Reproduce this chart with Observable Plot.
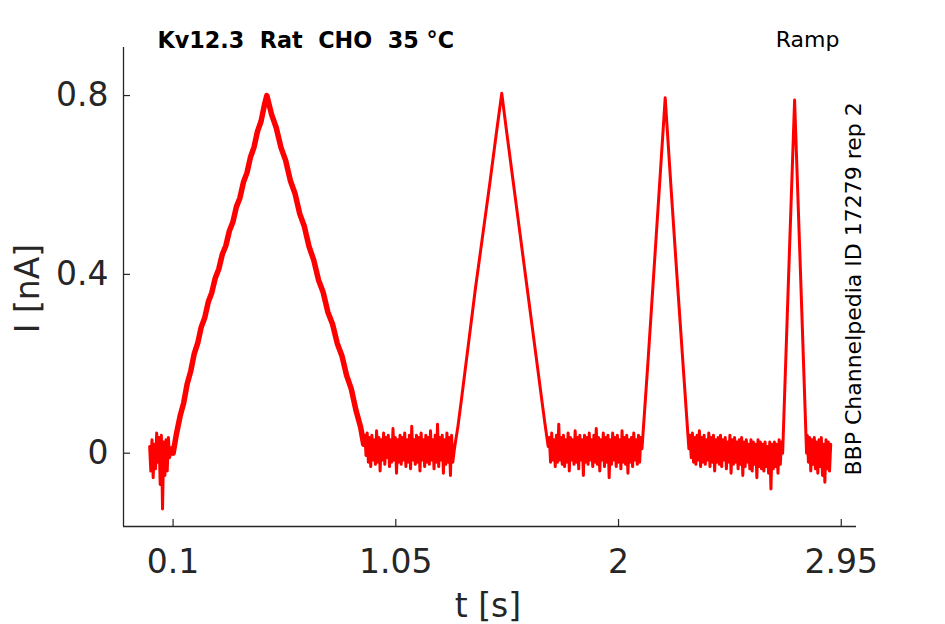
<!DOCTYPE html>
<html>
<head>
<meta charset="utf-8">
<script src="https://cdn.jsdelivr.net/npm/d3@7"></script>
<script src="https://cdn.jsdelivr.net/npm/@observablehq/plot@0.6"></script>
<style>
  body { margin: 0; background: #fff; }
  svg { display: block; }
</style>
</head>
<body>
<div id="chart"></div>
<script>
// ---------- data ----------
const titleText = "Kv12.3\u00a0 Rat\u00a0 CHO\u00a0 35 \u00b0C";
const protocolText = "Ramp";
const sourceText = "BBP Channelpedia ID 17279 rep 2";
const xLabel = "t [s]";
const yLabel = "I [nA]";

const xTicks = [0.1, 1.05, 2, 2.95];
const yTicks = [0, 0.4, 0.8];
const xDomain = [-0.1115, 3.015];
const yDomain = [-0.164, 0.9075];

// sample interval of the noisy baseline stretches (s)
const dt = 0.005;

// baseline stretches: start time (s) and current values (nA)
const base0Start = 0.000;
const base0 = [0.015, -0.04, 0.03, -0.055, 0.02, -0.035, 0.045, -0.02, 0.035, -0.07, 0.04, -0.125,
               0.025, -0.05, 0.03, -0.04, 0.035, -0.01];

const base1Start = 0.918;
const base1 = [0.04, -0.005, 0.045, -0.02, 0.035, -0.03, 0.04, -0.015, 0.03, -0.025, 0.05, -0.02,
               0.035, -0.04, 0.03, -0.015, 0.045, -0.025, 0.035, -0.01, 0.04, -0.03, 0.03, -0.02,
               0.055, -0.015, 0.035, -0.045, 0.03, -0.02, 0.04, -0.025, 0.035, -0.015, 0.045, -0.03,
               0.03, -0.02, 0.04, -0.035, 0.06, -0.015, 0.03, -0.025, 0.04, -0.02, 0.035, -0.04,
               0.045, -0.015, 0.03, -0.03, 0.04, -0.02, 0.035, -0.025, 0.05, -0.015, 0.03, -0.035,
               0.04, -0.02, 0.065, -0.03, 0.035, -0.015, 0.04, -0.045, 0.03, -0.025, 0.045, -0.02,
               0.035, -0.05, 0.04, -0.02];

const base2Start = 1.705;
const base2 = [0.035, -0.02, 0.045, -0.015, 0.03, -0.03, 0.04, -0.02, 0.065, -0.015, 0.035, -0.025,
               0.04, -0.03, 0.03, -0.02, 0.045, -0.04, 0.035, -0.015, 0.03, -0.025, 0.05, -0.02,
               0.035, -0.035, 0.04, -0.015, 0.03, -0.05, 0.04, -0.02, 0.035, -0.025, 0.045, -0.015,
               0.03, -0.03, 0.04, -0.02, 0.055, -0.025, 0.035, -0.04, 0.03, -0.015, 0.045, -0.03,
               0.035, -0.02, 0.04, -0.055, 0.03, -0.025, 0.045, -0.015, 0.035, -0.03, 0.04, -0.02,
               0.03, -0.035, 0.05, -0.02, 0.035, -0.025, 0.04, -0.045, 0.03, -0.02, 0.035, -0.03,
               0.045, -0.015, 0.03, -0.025, 0.04, -0.02, 0.035];

const base3Start = 2.305;
const base3 = [0.04, -0.01, 0.045, -0.02, 0.035, -0.025, 0.04, -0.015, 0.05, -0.03, 0.035, -0.02,
               0.04, -0.025, 0.03, -0.015, 0.045, -0.03, 0.035, -0.02, 0.04, -0.04, 0.03, -0.02,
               0.035, -0.025, 0.04, -0.03, 0.03, -0.015, 0.035, -0.035, 0.025, -0.02, 0.04, -0.045,
               0.03, -0.025, 0.035, -0.02, 0.025, -0.035, 0.03, -0.025, 0.035, -0.05, 0.025, -0.03,
               0.03, -0.02, 0.02, -0.035, 0.03, -0.04, 0.025, -0.025, 0.02, -0.055, 0.03, -0.03,
               0.025, -0.035, 0.02, -0.04, 0.025, -0.03, 0.015, -0.045, 0.025, -0.08, 0.02, -0.035,
               0.025, -0.03, 0.02, -0.045, 0.03, -0.025, 0.025];

const base4Start = 2.805;
const base4 = [0.04, -0.02, 0.035, -0.04, 0.03, -0.025, 0.035, -0.035, 0.025, -0.045, 0.03, -0.03,
               0.035, -0.05, 0.02, -0.065, 0.03, -0.035, 0.025, -0.04, 0.02];

// ramp responses: time (s) and current (nA)
const ramp1T = [0.095, 0.100, 0.115, 0.130, 0.145, 0.160, 0.175, 0.190, 0.205, 0.220, 0.235, 0.250,
                0.265, 0.280, 0.295, 0.310, 0.325, 0.340, 0.355, 0.370, 0.385, 0.400, 0.415, 0.430,
                0.445, 0.460, 0.475, 0.490, 0.500, 0.520, 0.540, 0.560, 0.580, 0.600, 0.620, 0.640,
                0.660, 0.680, 0.700, 0.720, 0.740, 0.760, 0.780, 0.800, 0.820, 0.840, 0.860, 0.880,
                0.900, 0.913];
const ramp1I = [0.01, 0.00, 0.045, 0.083, 0.112, 0.155, 0.183, 0.222, 0.246, 0.282, 0.303, 0.338,
                0.359, 0.392, 0.412, 0.445, 0.464, 0.497, 0.517, 0.551, 0.571, 0.606, 0.627, 0.662,
                0.684, 0.72, 0.742, 0.78, 0.800, 0.758, 0.728, 0.684, 0.655, 0.61, 0.581, 0.536,
                0.507, 0.462, 0.432, 0.388, 0.36, 0.316, 0.289, 0.246, 0.218, 0.174, 0.144, 0.096,
                0.058, 0.02];

const ramp2T = [1.300, 1.315, 1.330, 1.360, 1.390, 1.420, 1.450, 1.480, 1.502, 1.520, 1.550, 1.580,
                1.610, 1.640, 1.670, 1.685, 1.700];
const ramp2I = [0.01, 0.06, 0.12, 0.245, 0.37, 0.485, 0.60, 0.72, 0.805, 0.73, 0.61, 0.49,
                0.37, 0.25, 0.13, 0.07, 0.015];

const ramp3T = [2.100, 2.125, 2.150, 2.175, 2.199, 2.225, 2.250, 2.275, 2.300];
const ramp3I = [0.01, 0.20, 0.40, 0.60, 0.795, 0.585, 0.39, 0.20, 0.01];

const ramp4T = [2.700, 2.725, 2.751, 2.777, 2.802];
const ramp4I = [0.00, 0.39, 0.79, 0.39, 0.00];

// ---------- build the trace ----------
const baseRows = (start, vals) => vals.map((v, k) => ({t: start + k * dt, i: v}));
const rampRows = (T, I) => T.map((t, k) => ({t, i: I[k]}));

const ramp1 = rampRows(ramp1T, ramp1I);
const trace = [
  ...baseRows(base0Start, base0),
  ...ramp1,
  ...baseRows(base1Start, base1),
  ...rampRows(ramp2T, ramp2I),
  ...baseRows(base2Start, base2),
  ...rampRows(ramp3T, ramp3I),
  ...baseRows(base3Start, base3),
  ...rampRows(ramp4T, ramp4I),
  ...baseRows(base4Start, base4)
];

// ---------- layout ----------
const W = 945, H = 624;
const mL = 123, mR = 89, mT = 47, mB = 98;
const innerW = W - mL - mR, innerH = H - mT - mB;
const axisColor = "#262626";
const fmt = d => String(d);

const chart = Plot.plot({
  width: W,
  height: H,
  marginLeft: mL,
  marginRight: mR,
  marginTop: mT,
  marginBottom: mB,
  style: {fontFamily: "DejaVu Sans", fontSize: "33px", color: axisColor, background: "#fff"},
  x: {domain: xDomain},
  y: {domain: yDomain},
  marks: [
    Plot.axisX({ticks: xTicks, tickFormat: fmt, tickSize: 0, tickPadding: 23, label: null, fill: axisColor}),
    Plot.axisY({ticks: yTicks, tickFormat: fmt, tickSize: 0, tickPadding: 15, label: null, fill: axisColor}),
    Plot.tickX(xTicks, {x: d => d, insetTop: innerH - 7, stroke: axisColor, strokeWidth: 1.2}),
    Plot.tickY(yTicks, {y: d => d, insetRight: innerW - 7, stroke: axisColor, strokeWidth: 1.2}),
    Plot.ruleX([xDomain[0]], {stroke: axisColor, strokeWidth: 1.3}),
    Plot.ruleY([yDomain[0]], {stroke: axisColor, strokeWidth: 1.3}),
    Plot.line(trace, {x: "t", y: "i", stroke: "#ff0000", strokeWidth: 3, strokeLinejoin: "round"}),
    Plot.line(ramp1, {x: "t", y: "i", stroke: "#ff0000", strokeWidth: 5.5, strokeLinejoin: "round"}),
    Plot.text([titleText], {text: d => d, frameAnchor: "top-left", textAnchor: "start", lineAnchor: "bottom",
      dx: 34, dy: 0, fontSize: 22.3, fontWeight: "bold", fill: "#000"}),
    Plot.text([protocolText], {text: d => d, frameAnchor: "top-right", textAnchor: "end", lineAnchor: "bottom",
      dx: -17, dy: -1, fontSize: 22, fill: "#000"}),
    Plot.text([sourceText], {text: d => d, frameAnchor: "bottom-right", textAnchor: "start", lineAnchor: "bottom",
      rotate: -90, dx: 4, dy: -51, fontSize: 22, fill: "#000"}),
    Plot.text([yLabel], {text: d => d, frameAnchor: "left", textAnchor: "middle", lineAnchor: "bottom",
      rotate: -90, dx: -85, dy: 1.5, fontSize: 33, fill: axisColor}),
    Plot.text([xLabel], {text: d => d, frameAnchor: "bottom", textAnchor: "middle", lineAnchor: "bottom",
      dx: -2, dy: 90, fontSize: 33, fill: axisColor})
  ]
});

document.getElementById("chart").appendChild(chart);
</script>
</body>
</html>
